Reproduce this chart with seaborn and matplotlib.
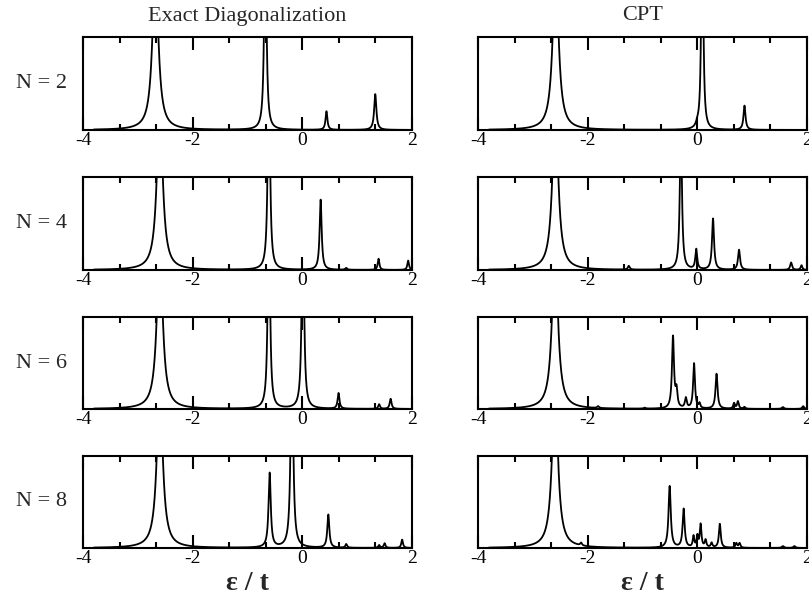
import numpy as np
import pandas as pd
import matplotlib
matplotlib.use("Agg")
import matplotlib.pyplot as plt
import seaborn as sns
from matplotlib.ticker import AutoMinorLocator, FixedLocator

# --- PEAK DATA (position, height as fraction of panel, half width) ---
ed2_pos = [-2.68, -0.675, 0.44, 1.33]
ed2_height = [1.8, 2.5, 0.20, 0.385]
ed2_width = [0.062, 0.022, 0.02, 0.024]

ed4_pos = [-2.60, -0.61, 0.334, 0.80, 1.39, 1.93]
ed4_height = [1.8, 2.5, 0.755, 0.02, 0.12, 0.10]
ed4_width = [0.062, 0.022, 0.022, 0.02, 0.018, 0.018]

ed6_pos = [-2.60, -0.61, 0.01, 0.66, 1.40, 1.61]
ed6_height = [1.8, 2.5, 2.5, 0.17, 0.05, 0.11]
ed6_width = [0.062, 0.022, 0.022, 0.02, 0.018, 0.02]

ed8_pos = [-2.60, -0.596, -0.19, 0.474, 0.80, 1.40, 1.50, 1.82]
ed8_height = [1.8, 0.81, 2.5, 0.36, 0.04, 0.03, 0.05, 0.09]
ed8_width = [0.062, 0.024, 0.024, 0.022, 0.018, 0.018, 0.018, 0.018]

cpt2_pos = [-2.584, 0.0, 0.09, 0.86]
cpt2_height = [1.8, 0.03, 3.0, 0.26]
cpt2_width = [0.062, 0.03, 0.018, 0.022]

cpt4_pos = [-2.59, -1.25, -0.30, -0.02, 0.286, 0.76, 1.71, 1.90]
cpt4_height = [1.8, 0.04, 1.6, 0.216, 0.55, 0.216, 0.08, 0.05]
cpt4_width = [0.062, 0.02, 0.022, 0.02, 0.022, 0.022, 0.02, 0.018]

cpt6_pos = [-2.596, -1.81, -0.96, -0.444, -0.38, -0.21, -0.06, 0.04,
            0.35, 0.67, 0.74, 0.86, 1.56, 1.93]
cpt6_height = [1.8, 0.02, 0.01, 0.78, 0.18, 0.11, 0.49, 0.05,
               0.38, 0.06, 0.08, 0.02, 0.02, 0.03]
cpt6_width = [0.062, 0.02, 0.02, 0.022, 0.02, 0.02, 0.02, 0.016,
              0.022, 0.018, 0.018, 0.018, 0.022, 0.02]

cpt8_pos = [-2.596, -2.12, -0.505, -0.25, -0.07, 0.0, 0.06, 0.15, 0.26,
            0.41, 0.71, 0.77, 1.56, 1.77]
cpt8_height = [1.8, 0.03, 0.67, 0.42, 0.12, 0.12, 0.25, 0.08, 0.05,
               0.26, 0.05, 0.05, 0.02, 0.02]
cpt8_width = [0.062, 0.018, 0.024, 0.022, 0.016, 0.016, 0.018, 0.018, 0.018,
              0.02, 0.018, 0.018, 0.022, 0.022]

row_labels = ["N = 2", "N = 4", "N = 6", "N = 8"]
col_titles = ["Exact Diagonalization", "CPT"]
tick_labels = ["-4", "-2", "0", "2"]

ed_panels = [(ed2_pos, ed2_height, ed2_width), (ed4_pos, ed4_height, ed4_width),
             (ed6_pos, ed6_height, ed6_width), (ed8_pos, ed8_height, ed8_width)]
cpt_panels = [(cpt2_pos, cpt2_height, cpt2_width), (cpt4_pos, cpt4_height, cpt4_width),
              (cpt6_pos, cpt6_height, cpt6_width), (cpt8_pos, cpt8_height, cpt8_width)]

energy = np.linspace(-3.8, 2.0, 6001)


def spectrum(pos, height, width):
    a = np.zeros_like(energy)
    for p, h, w in zip(pos, height, width):
        a += h * w ** 2 / ((energy - p) ** 2 + w ** 2)
    return a


sns.set_style("ticks")
plt.rcParams["font.family"] = ["Liberation Serif", "DejaVu Serif"]
plt.rcParams["axes.unicode_minus"] = False

fig = plt.figure(figsize=(8.09, 6.03), dpi=100)
W, H = 809, 603
rows_px = [(37, 130), (177, 270), (317, 409), (456, 548)]
cols_px = [(83, 412), (478, 807)]

for c, panels in enumerate([ed_panels, cpt_panels]):
    for r, (pos, height, width) in enumerate(panels):
        top, bot = rows_px[r]
        left, right = cols_px[c]
        ax = fig.add_axes([left / W, 1 - bot / H, (right - left) / W, (bot - top) / H])
        df = pd.DataFrame({"e": energy, "A": spectrum(pos, height, width)})
        sns.lineplot(data=df, x="e", y="A", ax=ax, color="black", lw=1.3)
        ax.set_xlim(-4, 2)
        ax.set_ylim(0, 1)
        ax.set_yticks([])
        ax.set_xlabel("")
        ax.set_ylabel("")
        ax.xaxis.set_major_locator(FixedLocator([-4, -2, 0, 2]))
        ax.set_xticklabels(tick_labels)
        ax.xaxis.set_minor_locator(AutoMinorLocator(3))
        ax.tick_params(axis="x", which="both", direction="in", top=True, bottom=True,
                       width=1.5, labelsize=14, pad=1.5, colors="black")
        ax.tick_params(axis="x", which="major", length=9.5)
        ax.tick_params(axis="x", which="minor", length=4.5)
        for s in ax.spines.values():
            s.set_linewidth(1.5)
            s.set_color("black")
        if c == 0:
            ax.text(-0.05, 0.5, row_labels[r], transform=ax.transAxes, ha="right",
                    va="center", fontsize=16)
        if r == 0:
            fig.text((left + right) / 2 / W, 1 - 16 / H, col_titles[c], ha="center",
                     va="center", fontsize=16)
        if r == 3:
            fig.text((left + right) / 2 / W, 1 - 584 / H, "ε / t", ha="center",
                     va="center", fontsize=20, fontweight="bold")

fig.savefig("out.png", dpi=100)
